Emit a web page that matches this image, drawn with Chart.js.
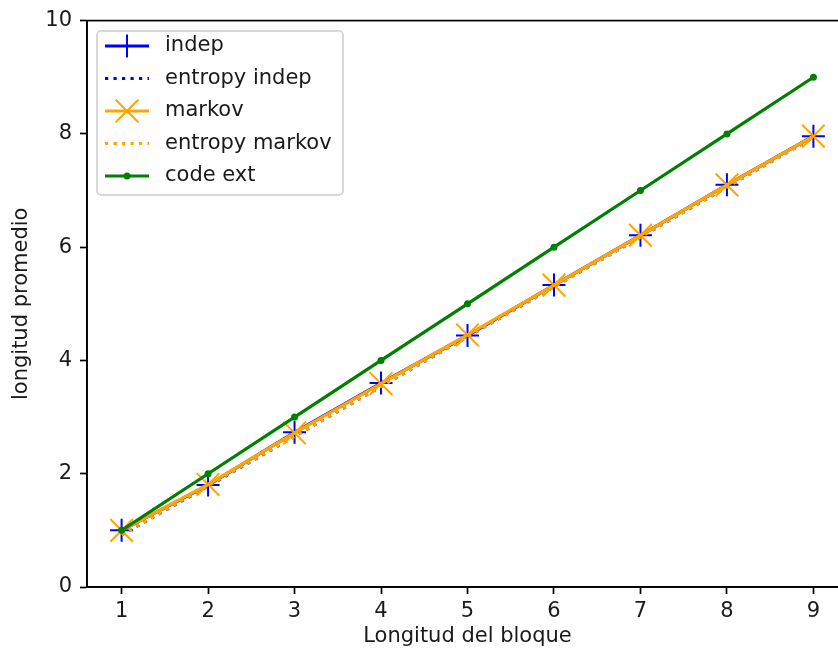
<!DOCTYPE html>
<html>
<head>
<meta charset="utf-8">
<script src="https://cdn.jsdelivr.net/npm/chart.js@4/dist/chart.umd.min.js"></script>
<style>
    html, body { margin: 0; padding: 0; background: #fff; overflow: hidden; }
    #wrap { position: absolute; left: 0; top: 0; width: 860px; height: 656px; }
</style>
</head>
<body>
<div id="wrap"><canvas id="chartBlock" width="860" height="656"></canvas></div>
<script>
// block lengths (x) and the measured / theoretical mean lengths
var blockLen = [1, 2, 3, 4, 5, 6, 7, 8, 9];
var indep = [1.00, 1.80, 2.73, 3.60, 4.44, 5.33, 6.21, 7.10, 7.96];
var entropyIndep = [0.92, 1.78, 2.66, 3.54, 4.42, 5.30, 6.18, 7.06, 7.94];
var markov = [1.00, 1.81, 2.72, 3.59, 4.45, 5.33, 6.21, 7.10, 7.96];
var entropyMarkov = [0.92, 1.79, 2.66, 3.54, 4.42, 5.30, 6.18, 7.06, 7.94];
var codeExt = [1, 2, 3, 4, 5, 6, 7, 8, 9];
var yTicks = [0, 2, 4, 6, 8, 10];

var FONT = 'DejaVu Sans';
var TEXT = '#1a1a1a';

toPoints = (ys) => blockLen.map((x, i) => ({ x: x, y: ys[i] }));

// matplotlib-like frame: top/right spine
var spinePlugin = {
    id: 'spines',
    afterDraw: function (chart) {
        var a = chart.chartArea, ctx = chart.ctx;
        ctx.save();
        ctx.strokeStyle = '#000';
        ctx.lineWidth = 1.7;
        ctx.strokeRect(a.left, a.top, a.right - a.left, a.bottom - a.top);
        ctx.restore();
    }
};

drawMarker = (ctx, style, r, x, y, color) => {
    ctx.strokeStyle = color;
    ctx.fillStyle = color;
    ctx.setLineDash([]);
    ctx.beginPath();
    if (style === 'cross') {
        ctx.lineWidth = 2;
        ctx.moveTo(x - r, y); ctx.lineTo(x + r, y);
        ctx.moveTo(x, y - r); ctx.lineTo(x, y + r);
        ctx.stroke();
    } else if (style === 'crossRot') {
        var d = r * Math.cos(Math.PI / 4);
        ctx.lineWidth = 2;
        ctx.moveTo(x - d, y - d); ctx.lineTo(x + d, y + d);
        ctx.moveTo(x - d, y + d); ctx.lineTo(x + d, y - d);
        ctx.stroke();
    } else if (style === 'circle' && r > 0) {
        ctx.arc(x, y, r, 0, Math.PI * 2);
        ctx.fill();
    }
};

// legend drawn by hand, box in the upper left corner
var legendPlugin = {
    id: 'mplLegend',
    afterDraw: function (chart) {
        var ctx = chart.ctx;
        var box = { x: 97, y: 31, w: 246, h: 164 };
        ctx.save();
        ctx.beginPath();
        ctx.roundRect(box.x, box.y, box.w, box.h, 4);
        ctx.fillStyle = 'rgba(255,255,255,0.8)';
        ctx.fill();
        ctx.strokeStyle = '#cccccc';
        ctx.lineWidth = 1.5;
        ctx.stroke();

        chart.data.datasets.forEach(function (ds, i) {
            var y = 46 + i * 32.5;
            ctx.beginPath();
            ctx.strokeStyle = ds.borderColor;
            ctx.lineWidth = ds.borderWidth;
            ctx.setLineDash(ds.borderDash || []);
            ctx.moveTo(105, y);
            ctx.lineTo(149, y);
            ctx.stroke();
            drawMarker(ctx, ds.pointStyle, ds.pointRadius, 127, y, ds.borderColor);

            ctx.fillStyle = TEXT;
            ctx.font = '21px "' + FONT + '"';
            ctx.textBaseline = 'middle';
            ctx.textAlign = 'left';
            ctx.fillText(ds.label, 165, y);
        });
        ctx.restore();
    }
};

var dotted = [3.2, 5.3];

var config = {
    type: 'line',
    data: {
        datasets: [{
            label: 'indep',
            data: toPoints(indep),
            borderColor: 'blue',
            borderWidth: 3.2,
            pointStyle: 'cross',
            pointRadius: 11.5,
            pointBorderWidth: 2,
            order: 5
        }, {
            label: 'entropy indep',
            data: toPoints(entropyIndep),
            borderColor: 'blue',
            borderWidth: 3.2,
            borderDash: dotted,
            pointStyle: 'circle',
            pointRadius: 0,
            order: 4
        }, {
            label: 'markov',
            data: toPoints(markov),
            borderColor: 'orange',
            borderWidth: 3.2,
            pointStyle: 'crossRot',
            pointRadius: 16,
            pointBorderWidth: 2,
            order: 3
        }, {
            label: 'entropy markov',
            data: toPoints(entropyMarkov),
            borderColor: 'orange',
            borderWidth: 3.2,
            borderDash: dotted,
            pointStyle: 'circle',
            pointRadius: 0,
            order: 2
        }, {
            label: 'code ext',
            data: toPoints(codeExt),
            borderColor: 'green',
            backgroundColor: 'green',
            borderWidth: 3.2,
            pointStyle: 'circle',
            pointRadius: 3.5,
            pointBorderWidth: 0,
            order: 1
        }]
    },
    options: {
        responsive: false,
        animation: false,
        events: [],
        // big markers would otherwise push the plot area inwards
        layout: { autoPadding: false, padding: { top: 20, right: 12, left: 0, bottom: 0 } },
        elements: { line: { tension: 0, fill: false } },
        plugins: {
            legend: { display: false },
            tooltip: { enabled: false }
        },
        scales: {
            x: {
                type: 'linear',
                min: 0.6,
                max: 9.4,
                afterBuildTicks: function (scale) {
                    scale.ticks = blockLen.map(v => ({ value: v }));
                },
                afterFit: function (scale) {
                    scale.height = 69;
                    scale.paddingLeft = 0;
                    scale.paddingRight = 0;
                },
                grid: { drawOnChartArea: false, tickLength: 7, tickWidth: 1.7, tickColor: '#000' },
                border: { display: true, color: '#000', width: 1.7 },
                ticks: { color: TEXT, padding: 5, maxRotation: 0, font: { family: FONT, size: 21 } },
                title: {
                    display: true,
                    text: 'Longitud del bloque',
                    color: TEXT,
                    padding: { top: 0, bottom: 7 },
                    font: { family: FONT, size: 21 }
                }
            },
            y: {
                min: 0,
                max: 10,
                afterBuildTicks: function (scale) {
                    scale.ticks = yTicks.map(v => ({ value: v }));
                },
                afterFit: function (scale) { scale.width = 87; },
                grid: { drawOnChartArea: false, tickLength: 7, tickWidth: 1.7, tickColor: '#000' },
                border: { display: true, color: '#000', width: 1.7 },
                ticks: { color: TEXT, padding: 8, font: { family: FONT, size: 21 } },
                title: {
                    display: true,
                    text: 'longitud promedio',
                    color: TEXT,
                    padding: { top: 9, bottom: 0 },
                    font: { family: FONT, size: 21 }
                }
            }
        }
    },
    plugins: [spinePlugin, legendPlugin]
};

var lineGraph = new Chart(document.getElementById('chartBlock'), config);
</script>
</body>
</html>
